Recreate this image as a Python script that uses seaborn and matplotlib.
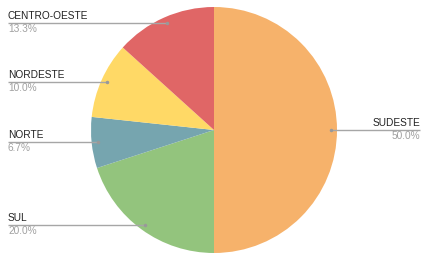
import numpy as np
import matplotlib
matplotlib.use("Agg")
import matplotlib.pyplot as plt
import seaborn as sns

regions = ["SUDESTE", "SUL", "NORTE", "NORDESTE", "CENTRO-OESTE"]
shares = [50.0, 20.0, 6.7, 10.0, 13.3]
colors = ["#F6B26B", "#93C47D", "#76A5AF", "#FFD966", "#E06666"]

sns.set_theme(style="white")
plt.rcParams['font.family'] = ['Liberation Sans', 'DejaVu Sans']

fig = plt.figure(figsize=(4.3, 2.65), dpi=100)
ax = fig.add_axes([0, 0, 1, 1])

cx, cy, r = 214, 135, 123
wedges, _ = ax.pie(shares, colors=colors, startangle=90, counterclock=False,
                   center=(cx, cy), radius=r, frame=True,
                   wedgeprops=dict(linewidth=0))
ax.set_xlim(0, 430)
ax.set_ylim(0, 265)
ax.axis("off")

for w, name, val in zip(wedges, regions, shares):
    mid = np.deg2rad((w.theta1 + w.theta2) / 2)
    ex = cx + 0.95 * r * np.cos(mid)
    ey = cy + 0.95 * r * np.sin(mid)
    if ex > cx:
        x0, x1, tx, ha = ex, 420, 420, "right"
    else:
        x0, x1, tx, ha = 8, ex, 8, "left"
    ax.plot([x0, x1], [ey, ey], color="#A6A6A6", lw=1.0, solid_capstyle="butt")
    ax.plot([ex], [ey], marker="o", ms=1.5, color="#999999")
    ax.text(tx, ey + 1.8, name, ha=ha, va="bottom", fontsize=7.3, color="#222222")
    ax.text(tx, ey - 1.2, f"{val:.1f}%", ha=ha, va="top", fontsize=7.3, color="#A0A0A0")

fig.savefig("out.png", dpi=100)
